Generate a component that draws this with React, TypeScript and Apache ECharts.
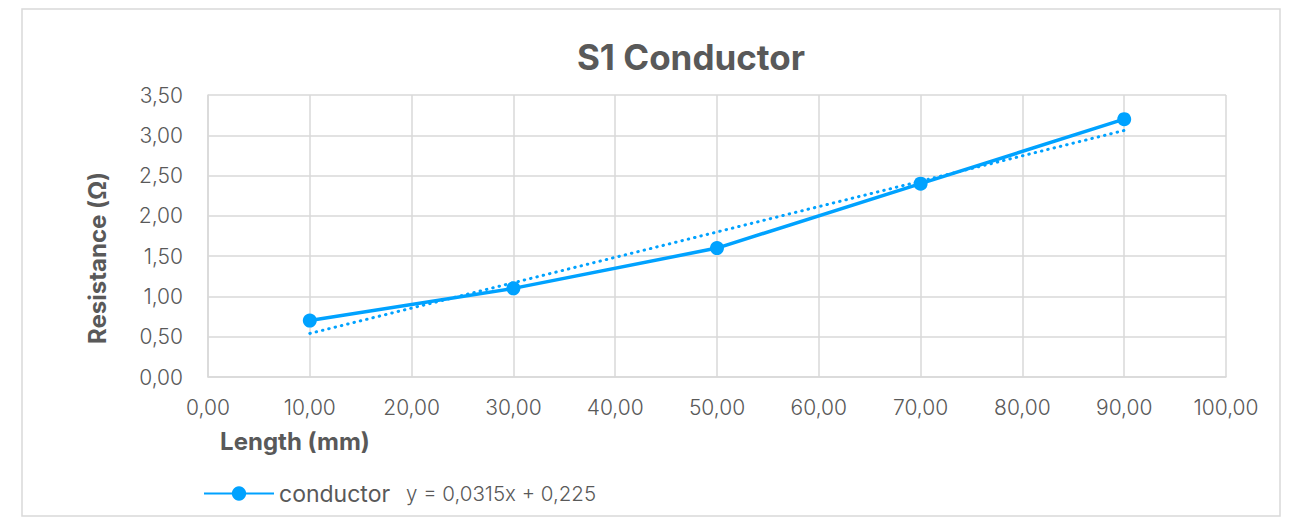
import React, { useEffect, useRef } from "react";
import * as echarts from "echarts";

const title = "S1 Conductor";
const seriesName = "conductor";
const lengths = [10, 30, 50, 70, 90];
const resistances = [0.7, 1.1, 1.6, 2.4, 3.2];
const trendSlope = 0.0315;
const trendIntercept = 0.225;
const trendLabel = "y = 0,0315x + 0,225";
const xAxisName = "Length (mm)";
const yAxisName = "Resistance (Ω)";

const BLUE = "#00A2FF";
const GRAY = "#595959";
const GRID = "#D9D9D9";
const FONT = "Inter, 'Open Sans', sans-serif";

const fmt = (v: number) => v.toFixed(2).replace(".", ",");

export default function App() {
  const ref = useRef<HTMLDivElement>(null);
  useEffect(() => {
    document.body.style.margin = "0";
    const chart = echarts.init(ref.current!, null, { renderer: "svg" });
    const x0 = lengths[0];
    const x1 = lengths[lengths.length - 1];
    chart.setOption({
      animation: false,
      backgroundColor: "#fff",
      textStyle: { fontFamily: FONT },
      grid: { left: 208, right: 70, top: 95, bottom: 141 },
      legend: {
        left: 198,
        top: 477,
        itemWidth: 70,
        itemHeight: 18,
        itemGap: 0,
        data: [seriesName],
        textStyle: { fontSize: 23, color: GRAY, fontFamily: FONT },
      },
      xAxis: {
        type: "value",
        min: 0,
        max: 100,
        interval: 10,
        axisLine: { lineStyle: { color: GRID, width: 1.5 } },
        axisTick: { show: false },
        splitLine: { lineStyle: { color: GRID, width: 1.5 } },
        axisLabel: { formatter: fmt, fontSize: 21, fontWeight: 300, color: GRAY, margin: 20, fontFamily: FONT },
      },
      yAxis: {
        type: "value",
        min: 0,
        max: 3.5,
        interval: 0.5,
        axisLine: { show: true, lineStyle: { color: GRID, width: 1.5 } },
        axisTick: { show: false },
        splitLine: { lineStyle: { color: GRID, width: 1.5 } },
        axisLabel: { formatter: fmt, fontSize: 21, fontWeight: 300, color: GRAY, margin: 25, fontFamily: FONT },
      },
      graphic: [
        {
          type: "rect",
          shape: { x: 22, y: 9, width: 1258, height: 507 },
          style: { fill: "none", stroke: GRID, lineWidth: 1.5 },
          silent: true,
        },
        {
          type: "text",
          x: 691,
          y: 57,
          style: {
            text: title,
            fontSize: 35,
            fontWeight: "bold",
            fill: GRAY,
            fontFamily: FONT,
            align: "center",
            verticalAlign: "middle",
          },
        },
        {
          type: "text",
          x: 97,
          y: 258,
          rotation: Math.PI / 2,
          style: {
            text: yAxisName,
            fontSize: 24,
            fontWeight: "bold",
            fill: GRAY,
            fontFamily: FONT,
            align: "center",
            verticalAlign: "middle",
          },
        },
        {
          type: "text",
          x: 295,
          y: 441,
          style: {
            text: xAxisName,
            fontSize: 24,
            fontWeight: "bold",
            fill: GRAY,
            fontFamily: FONT,
            align: "center",
            verticalAlign: "middle",
          },
        },
        {
          type: "text",
          x: 406,
          y: 493,
          style: {
            text: trendLabel,
            fontSize: 20.5,
            fontWeight: 300,
            fill: GRAY,
            fontFamily: FONT,
            align: "left",
            verticalAlign: "middle",
          },
        },
      ],
      series: [
        {
          name: seriesName,
          type: "line",
          data: lengths.map((x, i) => [x, resistances[i]]),
          symbol: "circle",
          symbolSize: 14,
          itemStyle: { color: BLUE },
          lineStyle: { color: BLUE, width: 3.5 },
          z: 3,
        },
        {
          name: "trend",
          type: "line",
          data: [
            [x0, trendSlope * x0 + trendIntercept],
            [x1, trendSlope * x1 + trendIntercept],
          ],
          symbol: "none",
          lineStyle: { color: BLUE, width: 3, type: [0.5, 6], cap: "round" },
          z: 2,
        },
      ],
    });
    return () => chart.dispose();
  }, []);
  return <div ref={ref} style={{ width: 1296, height: 518 }} />;
}
